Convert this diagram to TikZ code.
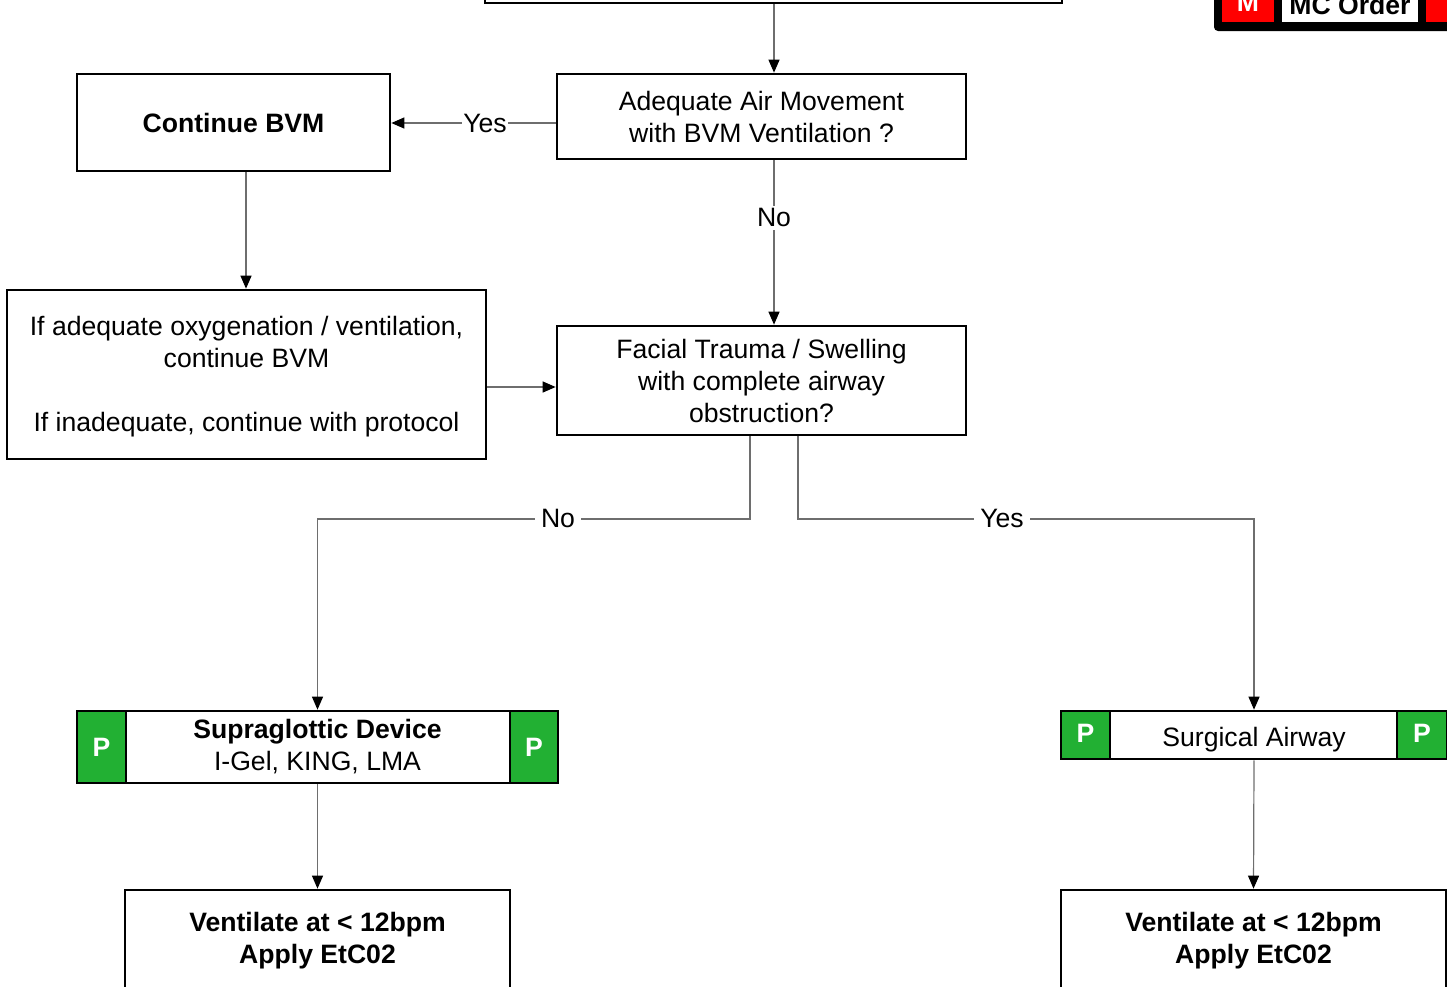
\documentclass[tikz,border=0pt]{standalone}
\usepackage{fontspec}
\setmainfont{Liberation Sans}
\usetikzlibrary{arrows.meta,positioning}
\definecolor{pgreen}{HTML}{22B033}
\definecolor{mred}{HTML}{FF0000}
\definecolor{conn}{HTML}{6E6E6E}
\begin{document}
\begin{tikzpicture}[x=1pt,y=-1pt,
  box/.style={draw=black,line width=2.7pt,fill=white,inner sep=0pt,align=center,
    font=\fontsize{26.6}{32}\selectfont},
  bbox/.style={box,font=\fontsize{26.6}{32}\selectfont\bfseries},
  pbox/.style={draw=black,line width=2.7pt,fill=pgreen,text=white,inner sep=0pt,
    font=\fontsize{26.6}{32}\selectfont\bfseries},
  txt/.style={inner sep=0pt,align=center,font=\fontsize{26.6}{32}\selectfont},
  lbl/.style={fill=white,inner sep=3pt,font=\fontsize{26.6}{32}\selectfont},
  conn/.style={draw=conn,line width=1.2pt,-{Triangle[length=13pt,width=11pt,color=black]}},
  plain/.style={draw=conn,line width=1.2pt}
]
\useasboundingbox (0,0) rectangle (1447,986);

% top box (cut off)
\node[box,minimum width=577pt,minimum height=60pt] (top) at (773.5,-27) {};

% MC order legend (cut off)
\fill[black,rounded corners=4pt] (1214,-30) rectangle (1470,31);
\node[fill=mred,minimum width=52pt,minimum height=52pt,inner sep=0pt] (mbox) at (1248,-4) {};
\node[fill=white,minimum width=136pt,minimum height=52pt,inner sep=0pt] (mcbox) at (1350,-4) {};
\node[fill=mred,minimum width=44pt,minimum height=52pt,inner sep=0pt] (mbox2) at (1448,-4) {};
\node[anchor=base,inner sep=0pt,text=white,font=\fontsize{26.6}{32}\selectfont\bfseries] (mtxt) at (1248,11) {M};
\node[anchor=base,inner sep=0pt,font=\fontsize{26.6}{32}\selectfont\bfseries] (mctxt) at (1350,14) {MC Order};

% main boxes
\node[box,minimum width=409pt,minimum height=85pt] (adeq) at (761.5,116.5) {Adequate Air Movement\\with BVM Ventilation ?};
\node[bbox,minimum width=313pt,minimum height=97pt] (cbvm) at (233.5,122.5) {Continue BVM};
\node[box,minimum width=479pt,minimum height=169pt] (ifad) at (246.5,374.5) {};
\node[txt] (ifadt) at (246.5,376.5) {If adequate oxygenation / ventilation,\\continue BVM\\[32pt]If inadequate, continue with protocol};
\node[box,minimum width=409pt,minimum height=109pt] (fac) at (761.5,380.5) {Facial Trauma / Swelling\\with complete airway\\obstruction?};

% supraglottic
\node[box,minimum width=481pt,minimum height=72pt] (sg) at (317.5,747) {\textbf{Supraglottic Device}\\I-Gel, KING, LMA};
\node[pbox,minimum width=49pt,minimum height=72pt] (sgp1) at (101.5,747) {P};
\node[pbox,minimum width=48pt,minimum height=72pt] (sgp2) at (534,747) {P};

% surgical
\node[box,minimum width=386pt,minimum height=48pt] (sa) at (1254,735) {};
\node[txt] (satxt) at (1254,740) {Surgical Airway};
\node[pbox,minimum width=49pt,minimum height=48pt] (sap1) at (1085.5,735) {};
\node[pbox,minimum width=50pt,minimum height=48pt] (sap2) at (1422,735) {};
\node[inner sep=0pt,text=white,font=\fontsize{26.6}{32}\selectfont\bfseries] (sap1t) at (1085.5,733) {P};
\node[inner sep=0pt,text=white,font=\fontsize{26.6}{32}\selectfont\bfseries] (sap2t) at (1422,733) {P};

% ventilate boxes (cut off at bottom)
\node[box,minimum width=385pt,minimum height=130pt] (v1) at (317.5,955) {};
\node[txt,font=\fontsize{26.6}{32}\selectfont\bfseries] (v1t) at (317.5,941) {Ventilate at < 12bpm\\Apply EtC02};
\node[box,minimum width=385pt,minimum height=130pt] (v2) at (1253.5,955) {};
\node[txt,font=\fontsize{26.6}{32}\selectfont\bfseries] (v2t) at (1253.5,941) {Ventilate at < 12bpm\\Apply EtC02};

% connectors
\draw[conn] (top.south -| 774,0) -- (adeq.north -| 774,0);
\draw[conn] (adeq.west |- 0,123) -- node[lbl,inner sep=1pt,pos=0.43] (yes1) {Yes} (cbvm.east |- 0,123);
\draw[conn] (adeq.south -| 774,0) -- node[lbl,pos=0.35] (no1) {No} (fac.north -| 774,0);
\draw[conn] (cbvm.south -| 246,0) -- (ifad.north -| 246,0);
\draw[conn] (ifad.east |- 0,387) -- (fac.west |- 0,387);

\coordinate (nl) at (750,519);
\coordinate (yr) at (798,519);
\draw[conn] (fac.south -| nl) -- (nl) -| (sg.north);
\draw[conn] (fac.south -| yr) -- (yr) -| (sa.north);
\node[lbl,inner sep=6pt] (no2) at (558,518) {No};
\node[lbl,inner sep=6pt] (yes2) at (1002,518) {Yes};

\draw[conn] (sg.south) -- (v1.north);
\draw[conn] (sa.south) -- (v2.north);
\end{tikzpicture}
\end{document}
